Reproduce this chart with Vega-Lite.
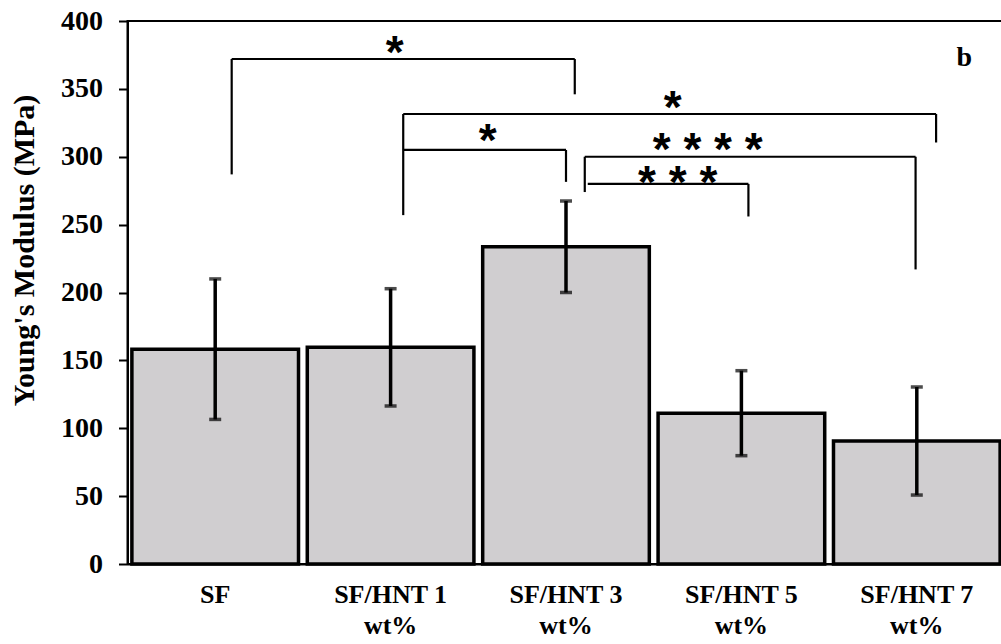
{
  "$schema": "https://vega.github.io/schema/vega-lite/v6.json",
  "autosize": {"type": "none"},
  "padding": {"left": 127.5, "top": 21, "right": 0, "bottom": 80},
  "width": 877,
  "height": 543,
  "config": {
    "view": {"stroke": "#000000", "strokeWidth": 2},
    "font": "Liberation Serif"
  },
  "datasets": {
    "modulus": [
      {"group": "SF", "mean": 158.2, "lo": 106.5, "hi": 210},
      {"group": "SF/HNT 1 wt%", "mean": 159.6, "lo": 116.4, "hi": 202.8},
      {"group": "SF/HNT 3 wt%", "mean": 233.7, "lo": 200, "hi": 267.4},
      {"group": "SF/HNT 5 wt%", "mean": 111, "lo": 79.8, "hi": 142.4},
      {"group": "SF/HNT 7 wt%", "mean": 90.6, "lo": 50.8, "hi": 130.4}
    ],
    "brackets": [
      {"x1": 0.094, "x2": 2.05, "top": 372, "leftEnd": 287, "rightEnd": 346, "starX": 1.024, "starY": 382.3, "stars": "*"},
      {"x1": 1.072, "x2": 4.11, "top": 331.5, "leftEnd": 257, "rightEnd": 310.5, "starX": 2.608, "starY": 341.8, "stars": "*"},
      {"x1": 1.072, "x2": 2.0, "top": 305, "leftEnd": 305, "rightEnd": 281.5, "starX": 1.554, "starY": 317.5, "stars": "*"},
      {"x1": 2.107, "x2": 3.993, "top": 300, "leftEnd": 274, "rightEnd": 217, "starX": 2.808, "starY": 311.1, "stars": "* * * *"},
      {"x1": 2.124, "x2": 3.04, "top": 280, "leftEnd": 280, "rightEnd": 256, "starX": 2.637, "starY": 286.6, "stars": "* * *"}
    ],
    "panel": [
      {"tag": "b", "px": 4.27, "py": 372.8}
    ]
  },
  "resolve": {"scale": {"x": "independent"}},
  "layer": [
    {
      "data": {"name": "modulus"},
      "encoding": {
        "x": {
          "field": "group",
          "type": "nominal",
          "sort": null,
          "scale": {"paddingInner": 0.05, "paddingOuter": 0.025},
          "axis": {
            "title": null,
            "labelAngle": 0,
            "labelFont": "Liberation Serif",
            "labelFontWeight": "bold",
            "labelFontSize": 26,
            "labelColor": "#000000",
            "labelLineHeight": 31,
            "labelPadding": 17,
            "labelExpr": "datum.value == 'SF' ? 'SF' : [substring(datum.value, 0, 8), substring(datum.value, 9)]",
            "ticks": false,
            "domainColor": "#000000",
            "domainWidth": 2
          }
        },
        "y": {
          "type": "quantitative",
          "scale": {"domain": [0, 400], "nice": false},
          "axis": {
            "title": "Young's Modulus (MPa)",
            "titleFont": "Liberation Serif",
            "titleFontWeight": "bold",
            "titleFontSize": 30,
            "titleColor": "#000000",
            "titleAngle": -90,
            "titleAlign": "center",
            "titleBaseline": "alphabetic",
            "titleX": -94,
            "titleY": 229,
            "values": [0, 50, 100, 150, 200, 250, 300, 350, 400],
            "labelFont": "Liberation Serif",
            "labelFontWeight": "bold",
            "labelFontSize": 28,
            "labelColor": "#000000",
            "labelPadding": 16,
            "tickSize": 9,
            "tickColor": "#000000",
            "tickWidth": 2,
            "domainColor": "#000000",
            "domainWidth": 2,
            "grid": false
          }
        }
      },
      "layer": [
        {
          "mark": {"type": "bar", "fill": "#d0ced0", "stroke": "#000000", "strokeWidth": 3.5},
          "encoding": {"y": {"field": "mean"}}
        },
        {
          "mark": {"type": "rule", "color": "#000000", "strokeWidth": 3.5},
          "encoding": {"y": {"field": "lo"}, "y2": {"field": "hi"}}
        },
        {
          "mark": {"type": "tick", "color": "#000000", "thickness": 3.5, "size": 12},
          "encoding": {"y": {"field": "lo"}}
        },
        {
          "mark": {"type": "tick", "color": "#000000", "thickness": 3.5, "size": 12},
          "encoding": {"y": {"field": "hi"}}
        }
      ]
    },
    {
      "data": {"name": "brackets"},
      "encoding": {
        "x": {"field": "x1", "type": "quantitative", "scale": {"domain": [-0.5, 4.5], "nice": false, "zero": false}, "axis": null},
        "y": {"field": "top", "type": "quantitative"}
      },
      "layer": [
        {
          "mark": {"type": "rule", "color": "#000000", "strokeWidth": 2.2},
          "encoding": {"x2": {"field": "x2"}}
        },
        {
          "mark": {"type": "rule", "color": "#000000", "strokeWidth": 2.2},
          "encoding": {"y2": {"field": "leftEnd"}}
        },
        {
          "mark": {"type": "rule", "color": "#000000", "strokeWidth": 2.2},
          "encoding": {"x": {"field": "x2", "type": "quantitative"}, "y2": {"field": "rightEnd"}}
        },
        {
          "mark": {"type": "text", "font": "Liberation Sans", "fontWeight": "bold", "fontSize": 46, "baseline": "alphabetic", "align": "center", "dy": 23, "color": "#000000"},
          "encoding": {
            "x": {"field": "starX", "type": "quantitative"},
            "y": {"field": "starY", "type": "quantitative"},
            "text": {"field": "stars"}
          }
        }
      ]
    },
    {
      "data": {"name": "panel"},
      "mark": {"type": "text", "font": "Liberation Serif", "fontWeight": "bold", "fontSize": 28, "baseline": "middle", "align": "center", "color": "#000000"},
      "encoding": {
        "x": {"field": "px", "type": "quantitative", "scale": {"domain": [-0.5, 4.5], "nice": false, "zero": false}, "axis": null},
        "y": {"field": "py", "type": "quantitative"},
        "text": {"field": "tag"}
      }
    }
  ]
}
